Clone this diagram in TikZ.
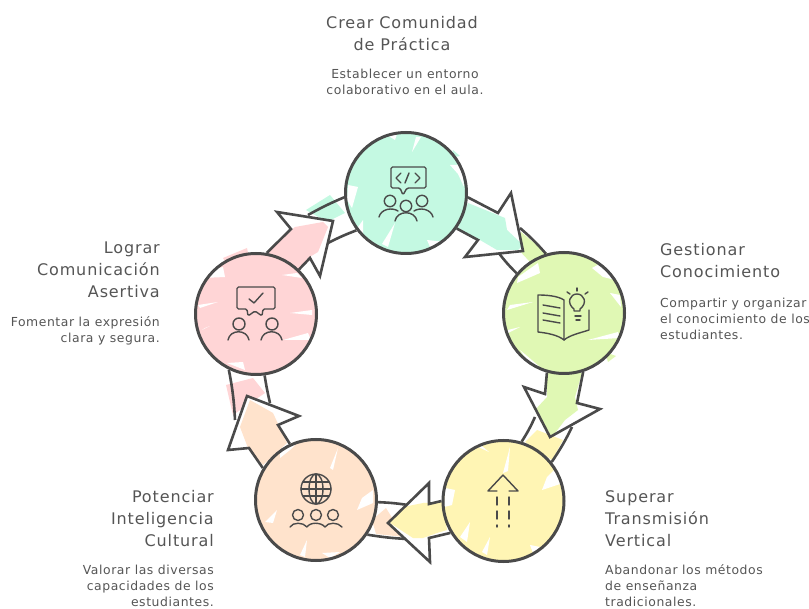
\documentclass[tikz,border=0pt]{standalone}
\usepackage{fontspec}
\setmainfont{DejaVu Sans}
\newfontfamily\titlefont[LetterSpace=5.5]{DejaVu Sans}
\newfontfamily\subfont[LetterSpace=4.6]{DejaVu Sans}
\pgfdeclarelayer{bg}
\pgfsetlayers{bg,main}
\definecolor{ink}{HTML}{4A4A4A}
\definecolor{txt}{HTML}{555555}
\definecolor{menta}{HTML}{C4F9E2}
\definecolor{lima}{HTML}{E0F8B4}
\definecolor{crema}{HTML}{FFF5B4}
\definecolor{durazno}{HTML}{FFE3CC}
\definecolor{rosa}{HTML}{FFD5D6}
\tikzset{
  ring/.style={circle,draw=ink,line width=3pt,minimum size=121pt,inner sep=0pt},
  band/.style={draw=ink,line width=2.6pt},
  blockarrow/.style={draw=ink,line width=2.6pt,line join=miter},
  slit/.style={fill=white},
  icon/.style={draw=ink,line width=1.4pt,line cap=round,line join=round},
  title/.style={inner sep=0pt,text=txt,font=\titlefont\fontsize{16}{22}\selectfont},
  sub/.style={inner sep=0pt,text=txt,font=\subfont\fontsize{12.4}{16}\selectfont}
}
\begin{document}
\begin{tikzpicture}[x=1pt,y=-1pt]
  \useasboundingbox (0,0) rectangle (809,609);
  % circles
  \node[ring] (comunidad) at (406,193) {};
  \node[ring] (conocimiento) at (564,313) {};
  \node[ring] (vertical) at (503.5,501) {};
  \node[ring] (cultural) at (316,500) {};
  \node[ring] (asertiva) at (256,314) {};
  \begin{pgfonlayer}{bg}
   % bands behind the arrows
   \fill[lima] (521,232) -- (548,254) -- (530,262) -- (515,246) -- cycle;
   \draw[band] (498,252) to[bend right=4] (conocimiento.140);
   \draw[band] (520,228) to[bend left=4] (conocimiento.107);
   \fill[crema] (525,442) -- (537,430) -- (563,440) -- (552,460) -- cycle;
   \draw[band] (535,417) to[bend left=4] (vertical.73);
   \draw[band] (572,427) to[bend left=4] (vertical.39);
   \fill[durazno] (372,520) -- (386,508) -- (404,537) -- (376,534) -- cycle;
   \draw[band] (cultural.-2) to[bend left=3] (408,505);
   \draw[band] (cultural.-34) to[bend right=3] (407,539);
   \fill[rosa] (226,385) -- (253,378) -- (265,393) -- (233,415) -- cycle;
   \draw[band] (asertiva.-116) to[bend left=4] (235,420);
   \draw[band] (asertiva.-82) to[bend right=2] (270,403);
   \fill[menta] (306,210) -- (330,195) -- (345,213) -- (327,222) -- cycle;
   \draw[band] (308,215) to[bend left=3] (comunidad.184);
   \draw[band] (328,243) to[bend left=3] (comunidad.217);
   % arrows
   \fill[white] (comunidad.-4) -- (498,213) -- (511,193) -- (523,251) -- (465,257) -- (478,240) -- (comunidad.-35) -- cycle;
   \fill[menta] (468,203) -- (505,218) -- (507,230) -- (523,245) -- (518,250) -- (497,250) -- (480,240) -- (458,228) -- cycle;
   \draw[blockarrow] (comunidad.-4) -- (498,213) -- (511,193) -- (523,251) -- (465,257) -- (478,240) -- (comunidad.-35);
   \fill[white] (conocimiento.-106) -- (545,394) -- (524,387) -- (550,437) -- (600,409) -- (577,403) -- (conocimiento.-72) -- cycle;
   \fill[lima] (547,373) -- (582,373) -- (575,397) -- (578,410) -- (565,420) -- (552,437) -- (535,410) -- (547,397) -- cycle;
   \draw[blockarrow] (conocimiento.-106) -- (545,394) -- (524,387) -- (550,437) -- (600,409) -- (577,403) -- (conocimiento.-72);
   \fill[white] (vertical.180) -- (429,504) -- (429,483) -- (388,523) -- (430,562) -- (429,538) -- (vertical.211) -- cycle;
   \fill[crema] (443,502) -- (447,530) -- (437,533) -- (423,538) -- (413,538) -- (390,523) -- (403,507) -- (423,503) -- cycle;
   \draw[blockarrow] (vertical.180) -- (429,504) -- (429,483) -- (388,523) -- (430,562) -- (429,538) -- (vertical.211);
   \fill[white] (cultural.149) -- (249,448) -- (228,450) -- (247,396) -- (299,416) -- (278,425) -- (cultural.115) -- cycle;
   \fill[durazno] (263,465) -- (287,443) -- (273,413) -- (250,400) -- (240,427) -- (248,448) -- cycle;
   \draw[blockarrow] (cultural.149) -- (249,448) -- (228,450) -- (247,396) -- (299,416) -- (278,425) -- (cultural.115);
   \fill[white] (asertiva.80) -- (291,229) -- (277,212) -- (333,221) -- (320,276) -- (310,258) -- (asertiva.46) -- cycle;
   \fill[rosa] (268,253) -- (295,227) -- (323,222) -- (328,227) -- (318,252) -- (308,258) -- (298,272) -- cycle;
   \draw[blockarrow] (asertiva.80) -- (291,229) -- (277,212) -- (333,221) -- (320,276) -- (310,258) -- (asertiva.46);
   % paint inside the circles
   \fill[menta] (453,150) -- (460,156) -- (450,158) -- cycle;
   \fill[menta] (comunidad) circle (60.5);
   \fill[slit] (421,137) -- (412,152) -- (416,137) -- cycle;
   \fill[slit] (348,185) -- (358,187) -- (352,208) -- (347,200) -- cycle;
   \fill[slit] (395,223) -- (382,244) -- (388,247) -- cycle;
   \fill[slit] (363,220) -- (356,230) -- (363,235) -- cycle;
   \fill[slit] (387,135) -- (395,140) -- (397,134) -- cycle;
   \fill[slit] (450,165) -- (458,174) -- (464,187) -- (462,165) -- cycle;
   \fill[slit] (427,240) -- (445,242) -- (430,247) -- cycle;
   \fill[lima] (605,352) -- (616,356) -- (608,362) -- cycle;
   \fill[lima] (conocimiento) circle (60.5);
   \fill[slit] (592,268) -- (603,277) -- (615,280) -- (603,262) -- cycle;
   \fill[slit] (507,310) -- (533,302) -- (510,305) -- cycle;
   \fill[slit] (508,330) -- (520,327) -- (508,333) -- cycle;
   \fill[slit] (588,340) -- (618,332) -- (620,338) -- cycle;
   \fill[slit] (517,283) -- (540,273) -- (538,263) -- (518,277) -- cycle;
   \fill[slit] (610,293) -- (620,295) -- (621,307) -- cycle;
   \fill[slit] (520,350) -- (540,367) -- (530,365) -- cycle;
   \fill[crema] (vertical) circle (60.5);
   \fill[slit] (489,452) -- (472,444) -- (477,442) -- cycle;
   \fill[slit] (510,447) -- (503,473) -- (508,471) -- cycle;
   \fill[slit] (547,477) -- (542,490) -- (563,483) -- (557,467) -- cycle;
   \fill[slit] (445,488) -- (455,490) -- (452,505) -- (444,507) -- cycle;
   \fill[slit] (470,522) -- (460,537) -- (467,542) -- cycle;
   \fill[slit] (490,537) -- (482,552) -- (487,555) -- cycle;
   \fill[slit] (530,545) -- (540,547) -- (533,553) -- cycle;
   \fill[durazno] (cultural) circle (60.5);
   \fill[slit] (338,448) -- (330,468) -- (333,470) -- cycle;
   \fill[slit] (357,510) -- (373,503) -- (373,490) -- (362,498) -- cycle;
   \fill[slit] (277,510) -- (265,522) -- (273,523) -- cycle;
   \fill[slit] (307,540) -- (300,555) -- (305,557) -- cycle;
   \fill[slit] (280,458) -- (290,450) -- (297,443) -- (280,450) -- cycle;
   \fill[slit] (322,553) -- (330,558) -- (340,552) -- cycle;
   \fill[rosa] (223,258) -- (247,248) -- (248,253) -- (227,265) -- cycle;
   \fill[rosa] (asertiva) circle (60.5);
   \fill[slit] (203,278) -- (225,277) -- (223,267) -- (210,270) -- cycle;
   \fill[slit] (198,305) -- (218,302) -- (200,308) -- cycle;
   \fill[slit] (205,328) -- (210,326) -- (202,330) -- cycle;
   \fill[slit] (290,313) -- (312,310) -- (312,315) -- cycle;
   \fill[slit] (283,340) -- (308,333) -- (311,340) -- cycle;
   \fill[slit] (282,275) -- (297,273) -- (302,278) -- cycle;
   \fill[slit] (227,363) -- (243,362) -- (245,370) -- cycle;
  \end{pgfonlayer}
  % icon of comunidad
  \draw[icon,rounded corners=1.5pt] (391,167) -- (426,167) -- (426,188) -- (407,188) -- (403,195) -- (400,188) -- (391,188) -- cycle;
  \draw[icon] (401,173) -- (396,178) -- (401,183);
  \draw[icon] (415,173) -- (420,178) -- (415,183);
  \draw[icon] (409,173) -- (405,183);
  \draw[icon] (390,201) circle (5.7);
  \draw[icon] (422,201) circle (5.7);
  \draw[icon] (406,206) circle (5.7);
  \draw[icon] (395,221) .. controls (397,210) and (415,210) .. (417,221);
  \draw[icon] (379,217) .. controls (381,209) and (392,207) .. (398,211);
  \draw[icon] (433,217) .. controls (431,209) and (420,207) .. (414,211);
  % icon of conocimiento
  \draw[icon] (538,295) .. controls (547,295) and (558,296) .. (564,300) -- (564,340) .. controls (558,335) and (547,333) .. (538,332) -- cycle;
  \draw[icon] (564,340) .. controls (570,335) and (580,333) .. (589,330) -- (589,310);
  \draw[icon] (543,305) -- (560,308);
  \draw[icon] (543,313) -- (560,316);
  \draw[icon] (543,320) -- (560,323);
  \draw[icon] (574,309) .. controls (566,303) and (570,294) .. (577,294) .. controls (584,294) and (588,303) .. (580,309) -- (580,311) -- (574,311) -- cycle;
  \draw[icon] (575,316) -- (581,316);
  \draw[icon] (576,320) -- (580,320);
  \draw[icon] (577,288) -- (577,291);
  \draw[icon] (567,292) -- (570,294);
  \draw[icon] (588,292) -- (585,294);
  % icon of vertical
  \draw[icon] (497,491) -- (488,491) -- (503,475) -- (518,491) -- (509,491);
  \draw[icon,dash pattern=on 8pt off 6pt] (497,497) -- (497,527);
  \draw[icon,dash pattern=on 8pt off 6pt] (509,497) -- (509,527);
  % icon of cultural
  \draw[icon] (316,489) circle (15);
  \draw[icon] (316,489) ellipse (7 and 15);
  \draw[icon] (316,474) -- (316,504);
  \draw[icon] (301,489) -- (331,489);
  \draw[icon] (303,482) -- (329,482);
  \draw[icon] (303,496) -- (329,496);
  \draw[icon] (298,515) circle (5.5);
  \draw[icon] (316,515) circle (5.5);
  \draw[icon] (333,515) circle (5.5);
  \draw[icon] (290,527) .. controls (293,522) and (303,522) .. (307,527) .. controls (310,522) and (321,522) .. (325,527) .. controls (328,522) and (338,522) .. (342,527);
  % icon of asertiva
  \draw[icon,rounded corners=1.5pt] (237,287) -- (275,287) -- (275,309) -- (263,309) -- (262,316) -- (255,311) -- (248,316) -- (247,309) -- (237,309) -- cycle;
  \draw[icon] (249,299) -- (254,303) -- (263,293);
  \draw[icon] (239,324) circle (6);
  \draw[icon] (272,324) circle (6);
  \draw[icon] (228,340) .. controls (230,329) and (247,329) .. (249,340);
  \draw[icon] (261,340) .. controls (263,329) and (280,329) .. (282,340);
  % texts
  \node[title,align=center] (t1) at (402,33.5) {Crear Comunidad\\de Práctica};
  \node[sub,align=center] (s1) at (405,82) {Establecer un entorno\\colaborativo en el aula.};
  \node[title,align=left,anchor=west] (t2) at (660,261) {Gestionar\\Conocimiento};
  \node[sub,align=left,anchor=west] (s2) at (660,319) {Compartir y organizar\\el conocimiento de los\\estudiantes.};
  \node[title,align=left,anchor=west] (t3) at (605,518.5) {Superar\\Transmisión\\Vertical};
  \node[sub,align=left,anchor=west] (s3) at (605,586) {Abandonar los métodos\\de enseñanza\\tradicionales.};
  \node[title,align=right,anchor=east] (t4) at (214,518.5) {Potenciar\\Inteligencia\\Cultural};
  \node[sub,align=right,anchor=east] (s4) at (214,586) {Valorar las diversas\\capacidades de los\\estudiantes.};
  \node[title,align=right,anchor=east] (t5) at (160,270) {Lograr\\Comunicación\\Asertiva};
  \node[sub,align=right,anchor=east] (s5) at (160,330.5) {Fomentar la expresión\\clara y segura.};
\end{tikzpicture}
\end{document}
